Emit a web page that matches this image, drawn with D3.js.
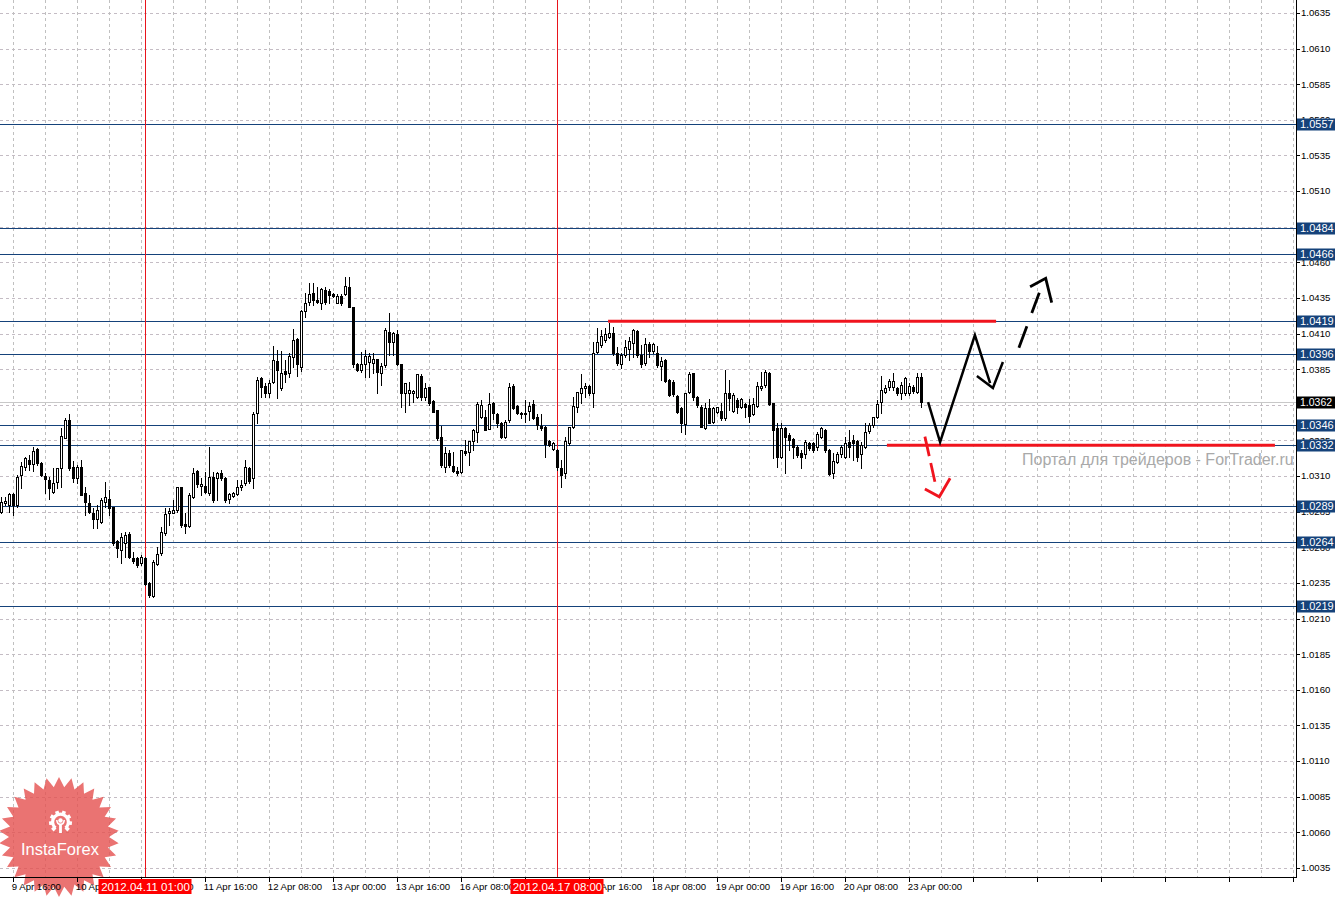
<!DOCTYPE html>
<html><head><meta charset="utf-8">
<script src="https://cdn.jsdelivr.net/npm/d3@7"></script>
<style>body{margin:0;background:#fff;overflow:hidden}svg{display:block}</style>
</head><body><svg id="c" width="1338" height="897"></svg>
<script>
// ---- data: EURUSD-like H1 candles (hourly bars starting 9 Apr 13:00) ----
const open = [
1.02850,1.02909,1.02895,1.02974,1.02897,1.03108,1.03166,1.03213,1.03183,1.03288,
1.03190,1.03101,1.03073,1.02991,1.03061,1.03159,1.03370,1.03494,1.03166,1.03084,
1.03166,1.02979,1.02909,1.02844,1.02797,1.02780,1.02921,1.02942,1.02881,1.02642,
1.02581,1.02628,1.02694,1.02528,1.02523,1.02488,1.02523,1.02352,1.02259,1.02483,
1.02558,1.02698,1.02839,1.02844,1.02862,1.03021,1.02764,1.02750,1.02951,1.03136,
1.03031,1.03031,1.02979,1.03096,1.03084,1.03120,1.03089,1.02939,1.02963,1.02974,
1.03021,1.03049,1.03154,1.03084,1.03540,1.03786,1.03732,1.03685,1.03762,1.03910,
1.03716,1.03840,1.03821,1.03933,1.04060,1.03868,1.04261,1.04324,1.04382,1.04336,
1.04312,1.04406,1.04401,1.04378,1.04317,1.04366,1.04375,1.04429,1.04289,1.03886,
1.03844,1.03886,1.03903,1.03891,1.03919,1.03821,1.03879,1.04113,1.04043,1.04097,
1.03886,1.03681,1.03681,1.03681,1.03653,1.03802,1.03653,1.03723,1.03629,1.03564,
1.03377,1.03166,1.03264,1.03171,1.03138,1.03131,1.03278,1.03271,1.03348,1.03412,
1.03517,1.03517,1.03428,1.03610,1.03533,1.03470,1.03372,1.03493,1.03732,1.03592,
1.03545,1.03536,1.03559,1.03606,1.03517,1.03451,1.03447,1.03348,1.03290,1.03283,
1.03154,1.03119,1.03330,1.03447,1.03582,1.03681,1.03716,1.03733,1.03681,1.03974,
1.04020,1.04055,1.04074,1.04107,1.03962,1.03887,1.03950,1.03990,1.04032,1.04121,
1.03950,1.03892,1.04025,1.03981,1.03967,1.03873,1.03915,1.03775,1.03763,1.03663,
1.03576,1.03466,1.03693,1.03822,1.03653,1.03588,1.03436,1.03576,1.03482,1.03553,
1.03560,1.03506,1.03681,1.03560,1.03634,1.03588,1.03606,1.03599,1.03536,1.03592,
1.03716,1.03740,1.03826,1.03611,1.03436,1.03237,1.03436,1.03389,1.03358,1.03307,
1.03265,1.03256,1.03335,1.03330,1.03307,1.03377,1.03424,1.03284,1.03120,1.03202,
1.03256,1.03237,1.03342,1.03354,1.03349,1.03256,1.03302,1.03419,1.03459,1.03517,
1.03623,1.03693,1.03723,1.03723,1.03716,1.03681,1.03681,1.03681,1.03723,1.03693,
1.03798];
const high = [
1.02956,1.02956,1.02984,1.02980,1.03108,1.03201,1.03236,1.03248,1.03307,1.03295,
1.03201,1.03124,1.03091,1.03154,1.03154,1.03435,1.03505,1.03533,1.03208,1.03178,
1.03213,1.03026,1.02967,1.02874,1.02897,1.02944,1.03061,1.03002,1.02886,1.02652,
1.02698,1.02710,1.02710,1.02570,1.02535,1.02546,1.02535,1.02359,1.02511,1.02605,
1.02745,1.02874,1.02874,1.02932,1.03026,1.03026,1.02839,1.02979,1.03154,1.03143,
1.03084,1.03131,1.03307,1.03131,1.03131,1.03143,1.03096,1.02979,1.02991,1.03073,
1.03073,1.03213,1.03166,1.03552,1.03798,1.03793,1.03751,1.03774,1.04013,1.03985,
1.03978,1.03914,1.03961,1.04130,1.04066,1.04265,1.04382,1.04452,1.04457,1.04429,
1.04417,1.04424,1.04410,1.04382,1.04378,1.04378,1.04499,1.04499,1.04289,1.03896,
1.03973,1.03985,1.03966,1.03966,1.03919,1.03891,1.04137,1.04247,1.04113,1.04125,
1.03886,1.03751,1.03762,1.03704,1.03816,1.03816,1.03751,1.03727,1.03634,1.03564,
1.03451,1.03306,1.03283,1.03271,1.03166,1.03283,1.03353,1.03348,1.03428,1.03622,
1.03634,1.03564,1.03681,1.03622,1.03540,1.03482,1.03493,1.03751,1.03746,1.03599,
1.03552,1.03634,1.03622,1.03634,1.03536,1.03536,1.03451,1.03353,1.03341,1.03288,
1.03213,1.03377,1.03447,1.03657,1.03692,1.03816,1.03751,1.03740,1.04044,1.04137,
1.04126,1.04137,1.04172,1.04149,1.04009,1.03967,1.04055,1.04079,1.04130,1.04126,
1.04020,1.04067,1.04044,1.04037,1.04013,1.03939,1.03920,1.03780,1.03775,1.03670,
1.03588,1.03686,1.03833,1.03826,1.03663,1.03599,1.03611,1.03639,1.03588,1.03588,
1.03611,1.03845,1.03775,1.03681,1.03646,1.03646,1.03611,1.03639,1.03646,1.03763,
1.03833,1.03845,1.03833,1.03611,1.03471,1.03471,1.03447,1.03401,1.03366,1.03319,
1.03284,1.03354,1.03342,1.03342,1.03412,1.03443,1.03429,1.03288,1.03260,1.03272,
1.03319,1.03377,1.03424,1.03389,1.03354,1.03342,1.03471,1.03471,1.03517,1.03634,
1.03803,1.03740,1.03780,1.03822,1.03728,1.03763,1.03798,1.03751,1.03740,1.03822,
1.03822];
const low = [
1.02839,1.02897,1.02850,1.02827,1.02886,1.03014,1.03143,1.03143,1.03136,1.03178,
1.03101,1.02979,1.02939,1.02979,1.03014,1.03026,1.03365,1.03143,1.03061,1.03049,
1.02967,1.02827,1.02839,1.02734,1.02734,1.02769,1.02886,1.02827,1.02617,1.02535,
1.02488,1.02535,1.02523,1.02488,1.02465,1.02476,1.02336,1.02254,1.02249,1.02476,
1.02546,1.02687,1.02757,1.02839,1.02850,1.02745,1.02698,1.02745,1.02944,1.03026,
1.02967,1.02979,1.02967,1.02921,1.02932,1.03073,1.02921,1.02909,1.02956,1.02967,
1.03004,1.03038,1.03049,1.03014,1.03470,1.03657,1.03657,1.03657,1.03751,1.03645,
1.03704,1.03762,1.03798,1.03868,1.03802,1.03837,1.04219,1.04300,1.04300,1.04312,
1.04270,1.04307,1.04312,1.04359,1.04312,1.04298,1.04371,1.04284,1.03868,1.03840,
1.03833,1.03798,1.03798,1.03821,1.03681,1.03739,1.03868,1.03950,1.03950,1.03879,
1.03587,1.03552,1.03599,1.03622,1.03645,1.03634,1.03634,1.03599,1.03552,1.03353,
1.03166,1.03131,1.03166,1.03131,1.03108,1.03119,1.03248,1.03178,1.03283,1.03341,
1.03505,1.03423,1.03428,1.03498,1.03447,1.03365,1.03365,1.03482,1.03568,1.03536,
1.03505,1.03482,1.03493,1.03498,1.03428,1.03423,1.03236,1.03311,1.03283,1.03143,
1.03026,1.03084,1.03318,1.03435,1.03552,1.03611,1.03657,1.03669,1.03588,1.03962,
1.04009,1.04044,1.04067,1.03950,1.03880,1.03857,1.03939,1.03915,1.03939,1.03939,
1.03868,1.03880,1.03939,1.03962,1.03868,1.03775,1.03763,1.03663,1.03663,1.03546,
1.03412,1.03396,1.03681,1.03634,1.03583,1.03443,1.03429,1.03471,1.03475,1.03541,
1.03494,1.03494,1.03564,1.03553,1.03541,1.03576,1.03517,1.03482,1.03529,1.03588,
1.03705,1.03728,1.03599,1.03225,1.03167,1.03225,1.03120,1.03284,1.03225,1.03237,
1.03155,1.03225,1.03284,1.03272,1.03284,1.03366,1.03272,1.03108,1.03085,1.03190,
1.03237,1.03225,1.03237,1.03213,1.03209,1.03155,1.03295,1.03405,1.03447,1.03506,
1.03546,1.03681,1.03705,1.03705,1.03670,1.03639,1.03670,1.03670,1.03681,1.03681,
1.03588];
const close = [
1.02921,1.02925,1.02974,1.02895,1.03096,1.03171,1.03225,1.03185,1.03276,1.03194,
1.03108,1.03077,1.03014,1.03049,1.03154,1.03381,1.03494,1.03154,1.03089,1.03166,
1.02970,1.02921,1.02850,1.02797,1.02862,1.02932,1.02953,1.02874,1.02628,1.02593,
1.02675,1.02687,1.02530,1.02507,1.02476,1.02535,1.02343,1.02266,1.02499,1.02553,
1.02710,1.02834,1.02857,1.02862,1.03021,1.02757,1.02750,1.02967,1.03124,1.03042,
1.03045,1.02991,1.03096,1.02932,1.03124,1.03084,1.02932,1.02974,1.02979,1.03021,
1.03038,1.03162,1.03066,1.03536,1.03774,1.03723,1.03685,1.03751,1.03914,1.03844,
1.03821,1.03814,1.03943,1.04055,1.03884,1.04258,1.04312,1.04378,1.04336,1.04319,
1.04410,1.04319,1.04371,1.04366,1.04364,1.04312,1.04434,1.04289,1.03886,1.03844,
1.03886,1.03943,1.03943,1.03919,1.03833,1.03872,1.04125,1.04043,1.04102,1.03886,
1.03681,1.03751,1.03704,1.03699,1.03816,1.03657,1.03716,1.03610,1.03552,1.03365,
1.03178,1.03259,1.03178,1.03138,1.03119,1.03283,1.03259,1.03348,1.03423,1.03606,
1.03599,1.03423,1.03606,1.03540,1.03470,1.03372,1.03482,1.03727,1.03575,1.03540,
1.03536,1.03545,1.03592,1.03505,1.03458,1.03435,1.03325,1.03318,1.03330,1.03166,
1.03108,1.03348,1.03447,1.03592,1.03692,1.03716,1.03732,1.03681,1.03967,1.04044,
1.04084,1.04098,1.04107,1.03962,1.03892,1.03950,1.04004,1.04051,1.04126,1.03950,
1.03885,1.04025,1.03981,1.04027,1.03880,1.03910,1.03770,1.03670,1.03677,1.03553,
1.03471,1.03681,1.03817,1.03653,1.03599,1.03447,1.03576,1.03475,1.03576,1.03583,
1.03506,1.03681,1.03646,1.03670,1.03588,1.03639,1.03583,1.03522,1.03606,1.03733,
1.03733,1.03833,1.03606,1.03424,1.03237,1.03436,1.03373,1.03354,1.03307,1.03249,
1.03237,1.03342,1.03295,1.03284,1.03396,1.03436,1.03284,1.03115,1.03209,1.03256,
1.03302,1.03335,1.03307,1.03330,1.03237,1.03319,1.03412,1.03459,1.03513,1.03606,
1.03705,1.03716,1.03770,1.03770,1.03681,1.03740,1.03786,1.03733,1.03700,1.03798,
1.03620];

const priceTicks = [1.0635,1.0610,1.0585,1.0560,1.0535,1.0510,1.0485,1.0460,1.0435,1.0410,1.0385,1.0360,1.0335,
  1.0310,1.0285,1.0260,1.0235,1.0210,1.0185,1.0160,1.0135,1.0110,1.0085,1.0060,1.0035];
const timeLabelBars = [3,19,35,51,67,83,99,115,131,147,163,179,195,211,227];
const timeLabels = ["9 Apr 16:00","10 Apr 08:00","11 Apr 00:00","11 Apr 16:00","12 Apr 08:00","13 Apr 00:00",
  "13 Apr 16:00","16 Apr 08:00","17 Apr 00:00","17 Apr 16:00","18 Apr 08:00","19 Apr 00:00","19 Apr 16:00",
  "20 Apr 08:00","23 Apr 00:00"];
const levels = [1.0557,1.0484,1.0466,1.0419,1.0396,1.0346,1.0332,1.0289,1.0264,1.0219];
const bidPrice = 1.0362;
const markerBars = [36,139];
const markerLabels = ["2012.04.11 01:00","2012.04.17 08:00"];
// red horizontal annotation segments: [startBar, endBar, price]
const redSegments = [[151.7,248.7,1.0419],[221.4,318.4,1.0332]];
// annotation arrows: [bar, price]
const blackPath = [[231.7,1.03620],[234.7,1.03339],[243.4,1.04090],[247.2,1.03753]];
const blackHead = [[243.9,1.03802],[247.9,1.03718],[250.4,1.03901]];
const blackDash = [[254.4,1.04001],[259.5,1.04387]];
const blackDashHead = [[257.2,1.04429],[261.1,1.04488],[262.6,1.04317]];
const redDash = [[230.9,1.03377],[233.4,1.03061]];
const redDashHead = [[230.9,1.03009],[234.5,1.02955],[237.2,1.03085]];

// ---- drawing ----
const PR = 1296, PB = 877;
const FONT = "'Liberation Sans', Arial, sans-serif";
const svg = d3.select("#c");
const x = d3.scaleLinear().domain([0, 324]).range([1.3, 1297.3]);
const y = d3.scaleLinear().domain([1.0635, 1.0035]).range([13, 868]);
const px = v => Math.round(y(v)) + 0.5;

svg.append("rect").attr("width",1338).attr("height",897).attr("fill","#fff");

const grid = svg.append("g").attr("shape-rendering","crispEdges");
grid.selectAll("line.h").data(priceTicks).join("line")
  .attr("x1",0).attr("x2",PR).attr("y1",d=>px(d)).attr("y2",d=>px(d))
  .attr("stroke","#c4bcc4").attr("stroke-dasharray","3,3");
grid.selectAll("line.v").data(d3.range(3, 324, 8)).join("line")
  .attr("x1",d=>Math.floor(x(d))+0.5).attr("x2",d=>Math.floor(x(d))+0.5).attr("y1",0).attr("y2",PB)
  .attr("stroke","#c0c0c0").attr("stroke-dasharray","3,3");

// levels and bid line
const lv = svg.append("g").attr("shape-rendering","crispEdges");
lv.append("line").attr("x1",0).attr("x2",PR).attr("y1",px(bidPrice)).attr("y2",px(bidPrice)).attr("stroke","#c8c8c8");
lv.selectAll("line.l").data(levels).join("line")
  .attr("x1",0).attr("x2",PR).attr("y1",d=>px(d)).attr("y2",d=>px(d)).attr("stroke","#15427a");
lv.selectAll("line.m").data(markerBars).join("line")
  .attr("x1",d=>Math.floor(x(d))+0.5).attr("x2",d=>Math.floor(x(d))+0.5).attr("y1",0).attr("y2",PB)
  .attr("stroke","#e8141c");

// candles
const cg = svg.append("g").attr("shape-rendering","crispEdges");
const idx = d3.range(open.length);
cg.selectAll("line.w").data(idx).join("line")
  .attr("x1",i=>Math.floor(x(i))+0.5).attr("x2",i=>Math.floor(x(i))+0.5)
  .attr("y1",i=>Math.round(y(Math.max(high[i],open[i],close[i]))))
  .attr("y2",i=>Math.round(y(Math.min(low[i],open[i],close[i])))+1)
  .attr("stroke","#000");
cg.selectAll("rect.b").data(idx).join("rect")
  .each(function(i){
    const col = Math.floor(x(i));
    const t = Math.round(y(Math.max(open[i],close[i])));
    const b = Math.round(y(Math.min(open[i],close[i])));
    const s = d3.select(this);
    if (close[i] >= open[i]) {
      s.attr("x",col-0.5).attr("width",2).attr("y",t+0.5).attr("height",Math.max(b-t,0))
       .attr("fill","#fff").attr("stroke","#000");
    } else {
      s.attr("x",col-1).attr("width",3).attr("y",t).attr("height",Math.max(b-t+1,1)).attr("fill","#000");
    }
  });

// red segments
svg.selectAll("line.rs").data(redSegments).join("line")
  .attr("x1",d=>x(d[0])).attr("x2",d=>x(d[1])).attr("y1",d=>y(d[2])+0.5).attr("y2",d=>y(d[2])+0.5)
  .attr("stroke","#f0141e").attr("stroke-width",3);

const line = d3.line().x(d=>x(d[0])).y(d=>y(d[1]));
const ann = svg.append("g").attr("fill","none").attr("stroke-linejoin","miter");
ann.append("path").attr("d",line(blackPath)).attr("stroke","#000").attr("stroke-width",2.5);
ann.append("path").attr("d",line(blackHead)).attr("stroke","#000").attr("stroke-width",2.5);
ann.append("path").attr("d",line(blackDash)).attr("stroke","#000").attr("stroke-width",2.8).attr("stroke-dasharray","23,14");
ann.append("path").attr("d",line(blackDashHead)).attr("stroke","#000").attr("stroke-width",2.8);
ann.append("path").attr("d",line(redDash)).attr("stroke","#f0141e").attr("stroke-width",2.8).attr("stroke-dasharray","20,7");
ann.append("path").attr("d",line(redDashHead)).attr("stroke","#f0141e").attr("stroke-width",2.8);

// watermark
svg.append("text").attr("x",1022).attr("y",465).attr("font-family",FONT).attr("font-size",16)
  .attr("fill","#a9a9a9").text("Портал для трейдеров - ForTrader.ru");

// InstaForex logo
(function(){
  const cx=59, cy=837, N=30, R=60, r=50;
  const pts=[];
  for(let k=0;k<2*N;k++){const a=Math.PI*k/N - Math.PI/2; const rr=k%2?r:R; pts.push([cx+rr*Math.cos(a), cy+rr*Math.sin(a)]);}
  svg.append("path").attr("d","M"+pts.map(p=>p.join(",")).join("L")+"Z").attr("fill","#e5504f").attr("fill-opacity",0.8);
  // gear ring (open at the bottom) with teeth
  const gx=60.5, gy=822;
  const g = svg.append("g").attr("fill","#fff").attr("stroke","none");
  const arc = d3.arc().innerRadius(6.5).outerRadius(9.5).startAngle(Math.PI*0.78).endAngle(Math.PI*(2-0.78)+Math.PI*2);
  g.append("path").attr("transform",`translate(${gx},${gy})`)
    .attr("d", d3.arc().innerRadius(6.3).outerRadius(9.5).startAngle(-Math.PI*0.78).endAngle(Math.PI*0.78)());
  for (let k=0;k<8;k++){
    const a = -Math.PI*0.75 + k*(Math.PI*1.5/7);
    g.append("rect").attr("x",-1.8).attr("y",-11.5).attr("width",3.6).attr("height",4)
      .attr("transform",`translate(${gx},${gy}) rotate(${a*180/Math.PI})`);
  }
  // figure inside
  g.append("circle").attr("cx",gx).attr("cy",gy-1.5).attr("r",2.2);
  g.append("path").attr("d",`M${gx-4.5},${gy-2} Q${gx-4},${gy+2.5} ${gx-1.4},${gy+3} L${gx-1.4},${gy+11} L${gx+1.4},${gy+11} L${gx+1.4},${gy+3} Q${gx+4},${gy+2.5} ${gx+4.5},${gy-2} L${gx+3},${gy-2} Q${gx+2.5},${gy+1.5} ${gx},${gy+1.5} Q${gx-2.5},${gy+1.5} ${gx-3},${gy-2} Z`);
  svg.append("text").attr("x",cx+1).attr("y",855).attr("text-anchor","middle").attr("font-family",FONT)
    .attr("font-size",16.5).attr("fill","#fff").text("InstaForex");
})();

// axes frame
const ax = svg.append("g").attr("shape-rendering","crispEdges");
ax.append("line").attr("x1",PR+0.5).attr("x2",PR+0.5).attr("y1",0).attr("y2",PB+1).attr("stroke","#000");
ax.append("line").attr("x1",0).attr("x2",PR+1).attr("y1",PB+0.5).attr("y2",PB+0.5).attr("stroke","#000");
ax.selectAll("line.pt").data(priceTicks).join("line")
  .attr("x1",PR).attr("x2",PR+4).attr("y1",d=>px(d)).attr("y2",d=>px(d)).attr("stroke","#000");
svg.selectAll("text.pt").data(priceTicks).join("text")
  .attr("x",1301).attr("y",d=>y(d)).attr("dy","0.35em").attr("font-family",FONT).attr("font-size",9.6)
  .attr("fill","#000").text(d=>d.toFixed(4));
ax.selectAll("line.tt").data(d3.range(3, 324, 16)).join("line")
  .attr("x1",d=>Math.floor(x(d))+0.5).attr("x2",d=>Math.floor(x(d))+0.5).attr("y1",PB).attr("y2",PB+5).attr("stroke","#000");
svg.selectAll("text.tl").data(timeLabels).join("text")
  .attr("x",(d,i)=>x(timeLabelBars[i])-1.5).attr("y",890).attr("font-family",FONT).attr("font-size",9.6)
  .attr("fill","#000").text(d=>d);

// level labels on price axis
const lb = svg.append("g");
levels.forEach(v=>{
  lb.append("rect").attr("x",1297).attr("y",Math.round(y(v))-5.5).attr("width",38).attr("height",12).attr("fill","#15427a");
  lb.append("text").attr("x",1300).attr("y",y(v)).attr("dy","0.37em").attr("font-family",FONT).attr("font-size",11)
    .attr("fill","#fff").text(v.toFixed(4));
});
lb.append("rect").attr("x",1297).attr("y",Math.round(y(bidPrice))-5.5).attr("width",38).attr("height",12).attr("fill","#000");
lb.append("text").attr("x",1300).attr("y",y(bidPrice)).attr("dy","0.37em").attr("font-family",FONT).attr("font-size",10.5)
  .attr("fill","#fff").text(bidPrice.toFixed(4));

// marker date boxes
markerBars.forEach((b,i)=>{
  const cxm = Math.floor(x(b))+0.5;
  lb.append("rect").attr("x",cxm-47).attr("y",879).attr("width",93).attr("height",15).attr("fill","#f00");
  lb.append("text").attr("x",cxm).attr("y",890.5).attr("text-anchor","middle").attr("font-family",FONT)
    .attr("font-size",11.5).attr("fill","#fff").text(markerLabels[i]);
});
</script></body></html>
